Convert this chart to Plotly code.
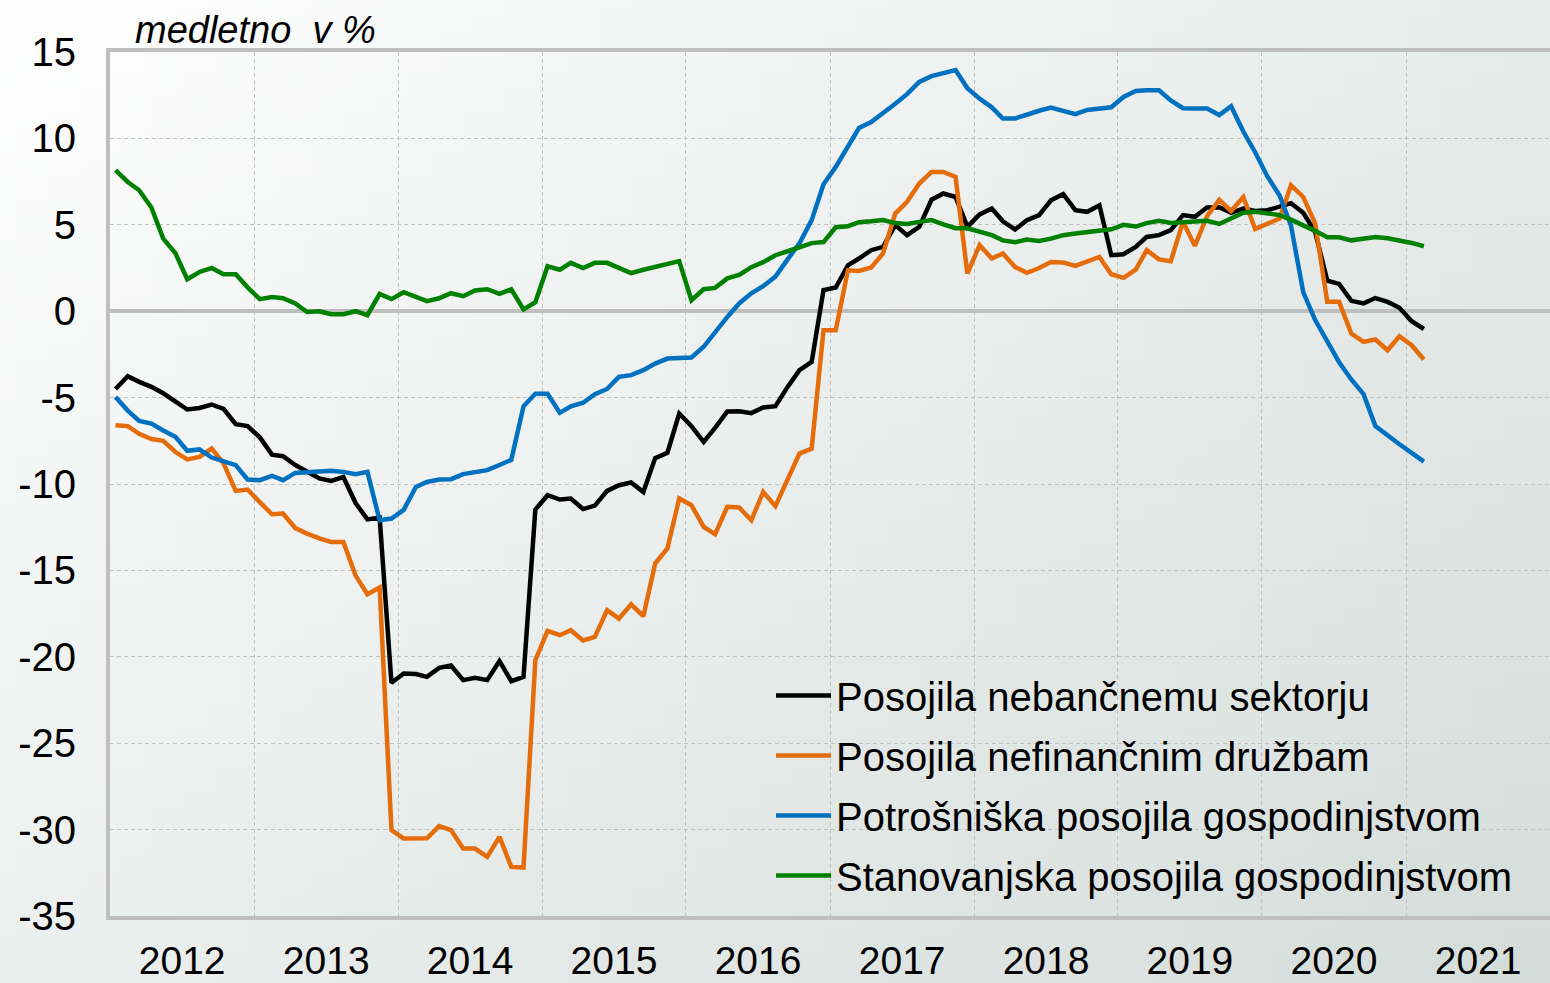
import base64
import struct
import zlib

import pandas as pd
import plotly.graph_objects as go

# ---------------- data ----------------
months = pd.date_range("2012-01-01", periods=110, freq="MS") + pd.Timedelta(days=14)

series_names = [
    "Posojila nebančnemu sektorju",
    "Posojila nefinančnim družbam",
    "Potrošniška posojila gospodinjstvom",
    "Stanovanjska posojila gospodinjstvom",
]

nebancni = [-4.5, -3.76, -4.09, -4.38, -4.75, -5.2, -5.69, -5.6, -5.4, -5.65, -6.54, -6.65,
            -7.3, -8.3, -8.39, -8.9, -9.3, -9.68, -9.82, -9.6, -11.1, -12.05, -11.94, -21.5,
            -20.97, -21.0, -21.16, -20.64, -20.5, -21.35, -21.22, -21.35, -20.24, -21.41, -21.16, -11.48,
            -10.65, -10.9, -10.84, -11.45, -11.25, -10.4, -10.07, -9.91, -10.46, -8.5, -8.2, -5.92,
            -6.65, -7.56, -6.75, -5.8, -5.79, -5.9, -5.57, -5.5, -4.38, -3.41, -2.93, 1.22,
            1.37, 2.66, 3.05, 3.53, 3.72, 4.98, 4.4, 4.88, 6.45, 6.81, 6.61, 4.88,
            5.6, 5.94, 5.2, 4.73, 5.27, 5.56, 6.42, 6.77, 5.85, 5.75, 6.13, 3.24,
            3.3, 3.72, 4.3, 4.4, 4.69, 5.56, 5.46, 6.0, 6.02, 5.69, 5.94, 5.8,
            5.84, 6.02, 6.25, 5.7, 4.6, 1.77, 1.58, 0.6, 0.45, 0.76, 0.54, 0.2,
            -0.58, -1.03]

nefinancne = [-6.6, -6.65, -7.1, -7.4, -7.5, -8.15, -8.58, -8.43, -7.95, -8.81, -10.4, -10.32,
              -11.05, -11.75, -11.71, -12.55, -12.87, -13.15, -13.35, -13.35, -15.3, -16.38, -15.99, -30.03,
              -30.52, -30.52, -30.5, -29.8, -30.03, -31.1, -31.1, -31.58, -30.42, -32.16, -32.2, -20.2,
              -18.5, -18.75, -18.46, -19.05, -18.85, -17.3, -17.79, -16.96, -17.65, -14.6, -13.73, -10.84,
              -11.23, -12.48, -12.9, -11.32, -11.36, -12.1, -10.46, -11.28, -9.78, -8.24, -7.95, -1.1,
              -1.1, 2.37, 2.33, 2.53, 3.34, 5.65, 6.33, 7.39, 8.06, 8.06, 7.77, 2.18,
              3.82, 3.05, 3.34, 2.56, 2.22, 2.5, 2.85, 2.82, 2.62, 2.85, 3.14, 2.14,
              1.93, 2.41, 3.53, 3.0, 2.89, 5.17, 3.78, 5.5, 6.44, 5.8, 6.61, 4.76,
              5.07, 5.36, 7.29, 6.61, 5.1, 0.54, 0.54, -1.29, -1.77, -1.64, -2.26, -1.45,
              -1.97, -2.8]

potrosniska = [-4.96, -5.75, -6.35, -6.5, -6.9, -7.27, -8.08, -8.0, -8.47, -8.66, -8.91, -9.74,
               -9.78, -9.53, -9.78, -9.36, -9.34, -9.28, -9.24, -9.3, -9.43, -9.3, -12.1, -12.0,
               -11.5, -10.17, -9.88, -9.74, -9.72, -9.43, -9.34, -9.2, -8.9, -8.6, -5.5, -4.78,
               -4.78, -5.88, -5.5, -5.3, -4.8, -4.5, -3.8, -3.7, -3.41, -3.03, -2.74, -2.74,
               -2.68, -2.06, -1.2, -0.33, 0.45, 1.04, 1.45, 2.0, 3.0, 3.93, 5.27, 7.35,
               8.35, 9.5, 10.6, 10.95, 11.45, 12.0, 12.56, 13.27, 13.6, 13.8, 13.95, 12.9,
               12.3, 11.8, 11.15, 11.15, 11.4, 11.6, 11.79, 11.6, 11.4, 11.65, 11.75, 11.8,
               12.4, 12.75, 12.79, 12.79, 12.2, 11.75, 11.73, 11.73, 11.35, 11.86, 10.4, 9.2,
               7.8, 6.7, 4.95, 1.1, -0.5, -1.75, -2.95, -3.95, -4.8, -6.65, -7.2, -7.7,
               -8.2, -8.7]

stanovanjska = [8.16, 7.48, 7.0, 6.0, 4.2, 3.35, 1.85, 2.27, 2.5, 2.14, 2.14, 1.38,
                0.7, 0.82, 0.75, 0.45, -0.05, 0.0, -0.17, -0.17, 0.0, -0.23, 1.0, 0.7,
                1.1, 0.82, 0.58, 0.75, 1.04, 0.87, 1.2, 1.27, 1.0, 1.27, 0.1, 0.52,
                2.6, 2.4, 2.8, 2.5, 2.8, 2.8, 2.5, 2.2, 2.4, 2.55, 2.7, 2.9,
                0.64, 1.27, 1.35, 1.9, 2.1, 2.55, 2.84, 3.24, 3.47, 3.7, 3.94, 4.0,
                4.86, 4.92, 5.15, 5.2, 5.27, 5.1, 5.05, 5.17, 5.27, 5.03, 4.8, 4.8,
                4.57, 4.4, 4.1, 3.99, 4.15, 4.07, 4.2, 4.4, 4.5, 4.6, 4.68, 4.74,
                5.0, 4.9, 5.1, 5.23, 5.11, 5.17, 5.23, 5.23, 5.05, 5.35, 5.7, 5.75,
                5.65, 5.56, 5.3, 5.0, 4.65, 4.28, 4.28, 4.1, 4.22, 4.3, 4.22, 4.1,
                3.95, 3.76]

y_tickvals = [15, 10, 5, 0, -5, -10, -15, -20, -25, -30, -35]
y_ticktext = ["15", "10", "5", "0", "-5", "-10", "-15", "-20", "-25", "-30", "-35"]

colors = ["#000000", "#E46C0A", "#0070C0", "#008000"]

# ---------------- layout geometry ----------------
W, H = 1550, 983
L, R, T, B = 110, 0, 52, 67
FONT = "Liberation Sans, Arial, sans-serif"


# diagonal gradient background as a small PNG
def make_png(w, h, c0, c1):
    rows = []
    for j in range(h):
        row = bytearray([0])
        for i in range(w):
            g = (i / (w - 1) * 0.55 + j / (h - 1) * 0.45)
            for k in range(3):
                row.append(int(round(c0[k] + (c1[k] - c0[k]) * g)))
        rows.append(bytes(row))
    raw = b"".join(rows)

    def chunk(t, d):
        c = struct.pack(">I", len(d)) + t + d
        return c + struct.pack(">I", zlib.crc32(t + d) & 0xFFFFFFFF)

    data = (b"\x89PNG\r\n\x1a\n"
            + chunk(b"IHDR", struct.pack(">IIBBBBB", w, h, 8, 2, 0, 0, 0))
            + chunk(b"IDAT", zlib.compress(raw))
            + chunk(b"IEND", b""))
    return "data:image/png;base64," + base64.b64encode(data).decode()


bg_src = make_png(48, 48, (254, 254, 254), (213, 221, 218))

fig = go.Figure()
for name, vals, col in zip(series_names, [nebancni, nefinancne, potrosniska, stanovanjska], colors):
    fig.add_trace(go.Scatter(
        x=months, y=vals, name=name, mode="lines",
        line=dict(color=col, width=4.5), legendgroup=name,
    ))

pw = W - L - R
ph = H - T - B
fig.add_layout_image(dict(
    source=bg_src, xref="paper", yref="paper",
    x=-L / pw, y=1 + T / ph, sizex=W / pw, sizey=H / ph,
    sizing="stretch", layer="below", xanchor="left", yanchor="top",
))

fig.add_annotation(
    text="<i>medletno  v %</i>", xref="paper", yref="paper",
    x=(133 - L) / pw, y=1 + 22 / ph, xanchor="left", yanchor="middle",
    showarrow=False, font=dict(family=FONT, size=38, color="#000000"),
)

fig.update_layout(
    width=W, height=H,
    margin=dict(l=L, r=R, t=T, b=B, pad=0, autoexpand=False),
    paper_bgcolor="rgba(0,0,0,0)", plot_bgcolor="rgba(0,0,0,0)",
    font=dict(family=FONT, size=40, color="#000000"),
    showlegend=True,
    legend=dict(
        x=(771 - L) / pw, y=(916 - 663) / ph, xanchor="left", yanchor="top",
        bgcolor="rgba(0,0,0,0)", font=dict(family=FONT, size=40, color="#000000"),
        tracegroupgap=5, itemwidth=55,
    ),
    xaxis=dict(
        type="date", range=["2012-01-01", "2022-01-01"], automargin=False,
        tick0="2012-01-01", dtick="M12", tickformat="%Y", ticklabelmode="period",
        showgrid=True, gridcolor="#c2c2c2", griddash="4px,3px", gridwidth=1,
        showline=True, linecolor="#bfbfbf", linewidth=4, mirror=True,
        ticks="", ticklabelstandoff=7, zeroline=False,
        tickfont=dict(family=FONT, size=39),
    ),
    yaxis=dict(
        range=[-35, 15], tickvals=y_tickvals, ticktext=y_ticktext, automargin=False,
        showgrid=True, gridcolor="#c2c2c2", griddash="4px,3px", gridwidth=1,
        showline=True, linecolor="#bfbfbf", linewidth=4, mirror=False,
        zeroline=True, zerolinecolor="#bfbfbf", zerolinewidth=4,
        ticks="", ticklabelstandoff=22,
        tickfont=dict(family=FONT, size=40),
    ),
)

fig.write_html(
    "out.html",
    config={"displayModeBar": False},
    post_script="document.body.style.margin='0px';",
)
